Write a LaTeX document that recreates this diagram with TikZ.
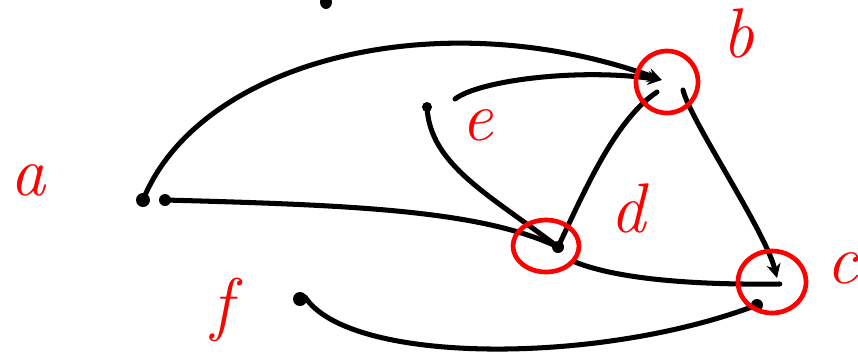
\documentclass[tikz,border=0pt]{standalone}
\usepackage{tikz}
\usetikzlibrary{arrows.meta,calc}
\tikzset{
  >={Stealth[length=12pt,width=12pt]},
  edge/.style={line width=4.3pt,line cap=round,line join=round},
  ring/.style={draw=red,line width=4pt},
  lbl/.style={text=red,inner sep=0pt,font=\fontsize{60}{60}\selectfont\itshape},
  vtx/.style={inner sep=0pt,minimum size=0pt},
}
\begin{document}
\begin{tikzpicture}[x=0.03cm,y=-0.03cm]
\useasboundingbox (0,0) rectangle (858,354);

% vertices
\node[vtx] (a) at (143,200) {};
\node[vtx] (b) at (662,80) {};
\node[vtx] (c) at (780,284) {};
\node[vtx] (d) at (558,247) {};
\node[vtx] (e) at (427,107) {};
\node[vtx] (f) at (300,299) {};

% marks at the vertices
\fill (a) circle (7);
\fill ($(a)+(22,0)$) circle (6);
\fill (e) circle (5);
\fill (f) circle (7);
\fill (d) circle (6);
\fill ($(c)+(-23,21)$) circle (6);
\fill (326,2) ellipse [x radius=6,y radius=7];

% edges
\draw[edge,->] (a) .. controls (200,60) and (440,0) .. (b);
\draw[edge] ($(a)+(22,0)$) .. controls (350,205) and (480,210) .. (d);
\draw[edge,->] ($(e)+(28,-8)$) .. controls (480,80) and (580,68) .. (b);
\draw[edge] (e) .. controls (430,165) and (490,195) .. (d);
\draw[edge] (d) .. controls (585,190) and (615,120) .. ($(b)+(-5,12)$);
\draw[edge,->] ($(b)+(21,10)$) .. controls (690,120) and (765,230) .. ($(c)+(-3,-6)$);
\draw[edge] ($(d)+(17,15)$) .. controls (620,280) and (700,285) .. (c);
\draw[edge] ($(f)+(5,-2)$) .. controls (350,365) and (600,365) .. ($(c)+(-23,21)$);

% rings
\draw[ring] (667,82) ellipse [x radius=31,y radius=31];
\draw[ring] (546,246) ellipse [x radius=33,y radius=26];
\draw[ring] (772,282) ellipse [x radius=34,y radius=31];

% labels
\node[lbl] (la) at (28,180) {a};
\node[lbl] (lb) at (738,33) {b};
\node[lbl] (lc) at (842,268) {c};
\node[lbl] (ld) at (628,208) {d};
\node[lbl] (le) at (477,125) {e};
\node[lbl] (lf) at (222,310) {f};
\end{tikzpicture}
\end{document}
